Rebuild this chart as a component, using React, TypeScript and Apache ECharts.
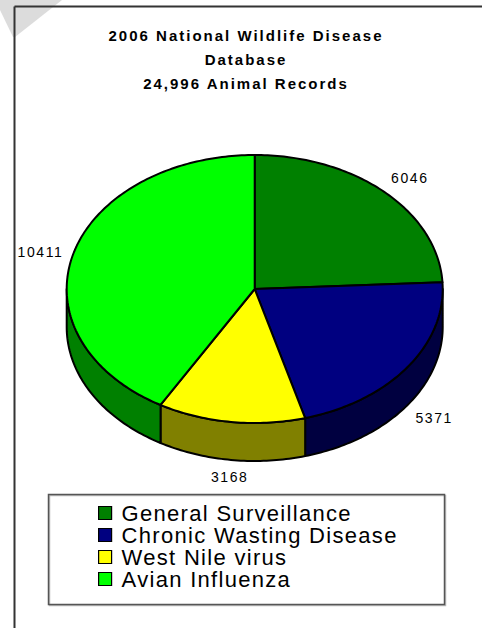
import React, { useEffect, useRef } from 'react';
import * as echarts from 'echarts';

const categories = ['General Surveillance', 'Chronic Wasting Disease', 'West Nile virus', 'Avian Influenza'];
const values = [6046, 5371, 3168, 10411];
const topColors = ['#008000', '#000080', '#FFFF00', '#00FF00'];
const sideColors = ['#004000', '#000040', '#808000', '#008000'];
const titleLines = ['2006 National Wildlife Disease', 'Database', '24,996 Animal Records'];

const FONT = '"Liberation Sans", Arial, sans-serif';

export default function App() {
  const ref = useRef<HTMLDivElement>(null);
  useEffect(() => {
    document.body.style.margin = '0';
    const el = ref.current!;
    const chart = echarts.init(el, null, { renderer: 'svg' });
    const total = values.reduce((s, v) => s + v, 0);
    const starts = values.map((_, i) => values.slice(0, i).reduce((s, v) => s + v, 0));
    const PIE = { cx: 254.7, cy: 289, rx: 188, ry: 134, depth: 38 };
    const pt = (deg: number, dy = 0, grow = 0) => {
      const r = (deg * Math.PI) / 180;
      return [PIE.cx + (PIE.rx + grow) * Math.sin(r), PIE.cy - (PIE.ry + grow) * Math.cos(r) + dy];
    };
    const arc = (a: number, b: number, dy: number) => {
      const n = Math.max(2, Math.ceil(Math.abs(b - a)));
      const out: number[][] = [];
      for (let k = 0; k <= n; k++) out.push(pt(a + ((b - a) * k) / n, dy));
      return out;
    };
    const makeRender = (i: number) => (params: any, api: any) => {
      const v = api.value(0) as number;
      const a = (starts[i] / total) * 360;
      const b = a + (v / total) * 360;
      const children: any[] = [];
      const lo = Math.max(a, 90);
      const hi = Math.min(b, 270);
      if (hi > lo) {
        children.push({
          type: 'polygon',
          shape: { points: [...arc(lo, hi, 0), ...arc(hi, lo, PIE.depth)] },
          style: { fill: sideColors[i], stroke: '#000', lineWidth: 2, lineJoin: 'round' },
        });
      }
      children.push({
        type: 'polygon',
        shape: { points: [[PIE.cx, PIE.cy], ...arc(a, b, 0)] },
        style: { fill: topColors[i], stroke: '#000', lineWidth: 2, lineJoin: 'round' },
      });
      const mid = (a + b) / 2;
      const r = (mid * Math.PI) / 180;
      const s = Math.sin(r);
      const c = Math.cos(r);
      const [lx, ly] = pt(mid, c < 0 ? PIE.depth : 0, 10);
      children.push({
        type: 'text',
        style: {
          text: String(v),
          x: lx,
          y: ly,
          fill: '#000',
          font: '14px ' + FONT,
          textAlign: s > 0.2 ? 'left' : s < -0.2 ? 'right' : 'center',
          textVerticalAlign: c > 0.3 ? 'bottom' : c < -0.3 ? 'top' : 'middle',
        },
      });
      return { type: 'group', children };
    };

    chart.setOption({
      animation: false,
      backgroundColor: '#fff',
      title: {
        text: titleLines.join('\n'),
        left: 246,
        top: 23,
        textAlign: 'center',
        padding: 0,
        textStyle: { fontSize: 15, fontWeight: 'bold', fontFamily: FONT, lineHeight: 24, color: '#000' },
      },
      legend: {
        orient: 'vertical',
        left: 98,
        top: 502,
        padding: 0,
        itemGap: 0,
        itemWidth: 13,
        itemHeight: 13,
        icon: 'rect',
        selectedMode: false,
        data: categories,
        itemStyle: { borderColor: '#000', borderWidth: 1.2 },
        textStyle: { fontSize: 22, fontFamily: FONT, color: '#000', lineHeight: 22, padding: [0, 0, 0, 5] },
      },
      graphic: [
        {
          type: 'polygon',
          z: -10,
          shape: { points: [[0, 0], [62, 0], [15, 37], [13, 37], [0, 10]] },
          style: { fill: '#dcdcdc' },
        },
        { type: 'line', z: 10, shape: { x1: 14.5, y1: 6.5, x2: 482, y2: 6.5 }, style: { stroke: '#333', lineWidth: 2 } },
        { type: 'line', z: 10, shape: { x1: 14.5, y1: 6.5, x2: 14.5, y2: 628 }, style: { stroke: '#333', lineWidth: 2 } },
        { type: 'rect', z: -5, shape: { x: 49.5, y: 495.5, width: 396, height: 110 }, style: { fill: 'none', stroke: '#bbb', lineWidth: 1.5 } },
        { type: 'rect', z: -4, shape: { x: 48.5, y: 494.5, width: 396, height: 110 }, style: { fill: 'none', stroke: '#555', lineWidth: 1.5 } },
      ],
      series: categories.map((name, i) => ({
        type: 'custom',
        name,
        coordinateSystem: 'none',
        itemStyle: { color: topColors[i] },
        data: [[values[i]]],
        renderItem: makeRender(i),
      })),
    });

    const applySpacing = () => {
      el.querySelectorAll('text').forEach((t) => {
        const txt = (t.textContent || '').trim();
        if (titleLines.includes(txt)) (t as any).style.letterSpacing = '2px';
        else if (categories.includes(txt)) (t as any).style.letterSpacing = '1.3px';
        else if (/^\d+$/.test(txt)) (t as any).style.letterSpacing = '1.6px';
      });
    };
    applySpacing();
    chart.on('finished', applySpacing);

    return () => {
      chart.dispose();
    };
  }, []);
  return <div ref={ref} style={{ width: 482, height: 628 }} />;
}
